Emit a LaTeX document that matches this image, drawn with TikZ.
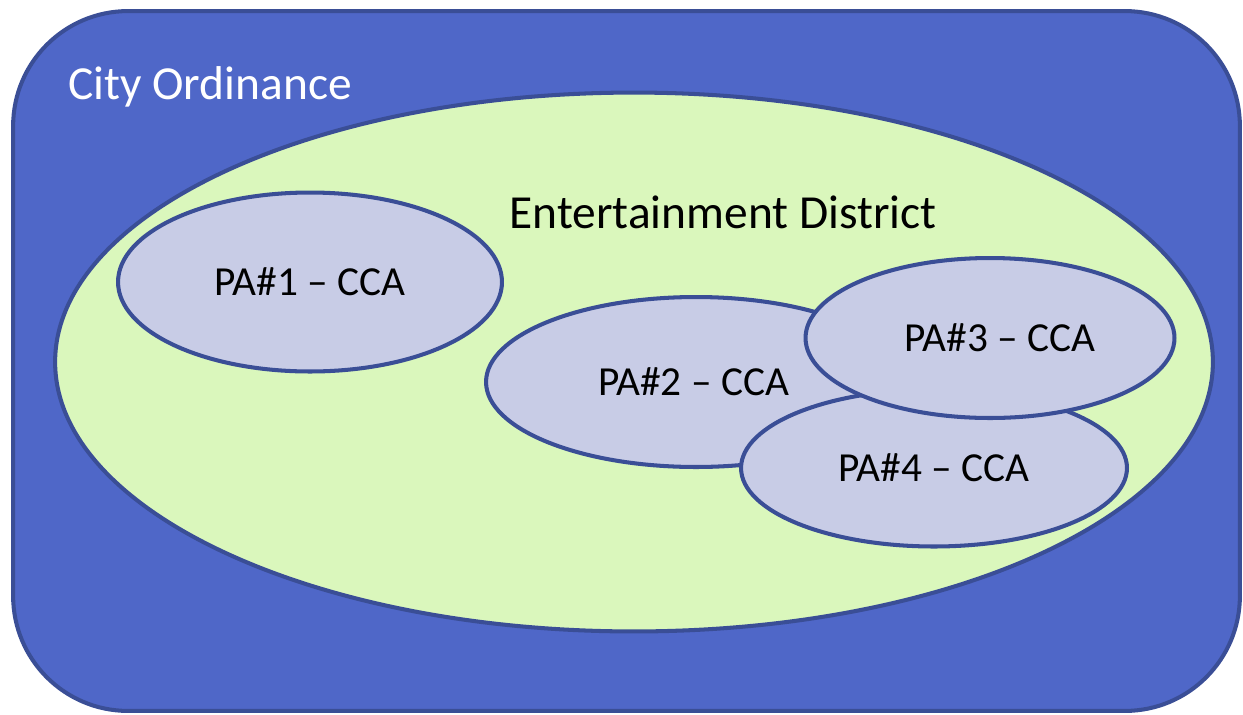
\documentclass[tikz,border=0pt]{standalone}
\usepackage{fontspec}
\setmainfont{Carlito}
\usetikzlibrary{shapes.geometric}
\definecolor{cityblue}{RGB}{79,103,200}
\definecolor{edgeblue}{RGB}{58,78,150}
\definecolor{districtgreen}{RGB}{218,247,188}
\definecolor{palilac}{RGB}{200,204,230}
\tikzstyle{cityarea} = [rectangle, draw=edgeblue, fill=cityblue, line width=2.3pt,
    rounded corners=2.3cm, inner sep=0pt]
\tikzstyle{district} = [ellipse, draw=edgeblue, fill=districtgreen, line width=2.3pt,
    inner sep=0pt]
\tikzstyle{pa} = [ellipse, draw=edgeblue, fill=palilac, line width=2.3pt,
    inner sep=0pt, font=\fontsize{23.5}{28}\selectfont]
\tikzstyle{biglabel} = [font=\fontsize{27}{32}\selectfont]

\begin{document}
\begin{tikzpicture}[x=0.02cm, y=-0.02cm]
    \useasboundingbox (0,0) rectangle (1243,714);
    % Place areas
    \node [cityarea, minimum width=24.54cm, minimum height=14cm] (city) at (626.5,361) {};
    \node [biglabel, text=white] (citylabel) at (210,87) {City Ordinance};
    \node [district, minimum width=23.16cm, minimum height=10.78cm] (ed) at (634,362) {};
    \node [biglabel] (edlabel) at (723,212) {Entertainment District};
    % Place permit areas
    \node [pa, minimum width=7.68cm, minimum height=3.58cm] (pa1) at (310,282) {PA\#1 -- CCA};
    \node [pa, minimum width=8.4cm, minimum height=3.4cm] (pa2) at (696,382) {\hspace*{-0.1cm}PA\#2 -- CCA};
    \node [pa, minimum width=7.72cm, minimum height=3.14cm] (pa4) at (934,468) {PA\#4 -- CCA};
    \node [pa, minimum width=7.38cm, minimum height=3.2cm] (pa3) at (990,338) {\hspace*{0.4cm}PA\#3 -- CCA};
\end{tikzpicture}
\end{document}
